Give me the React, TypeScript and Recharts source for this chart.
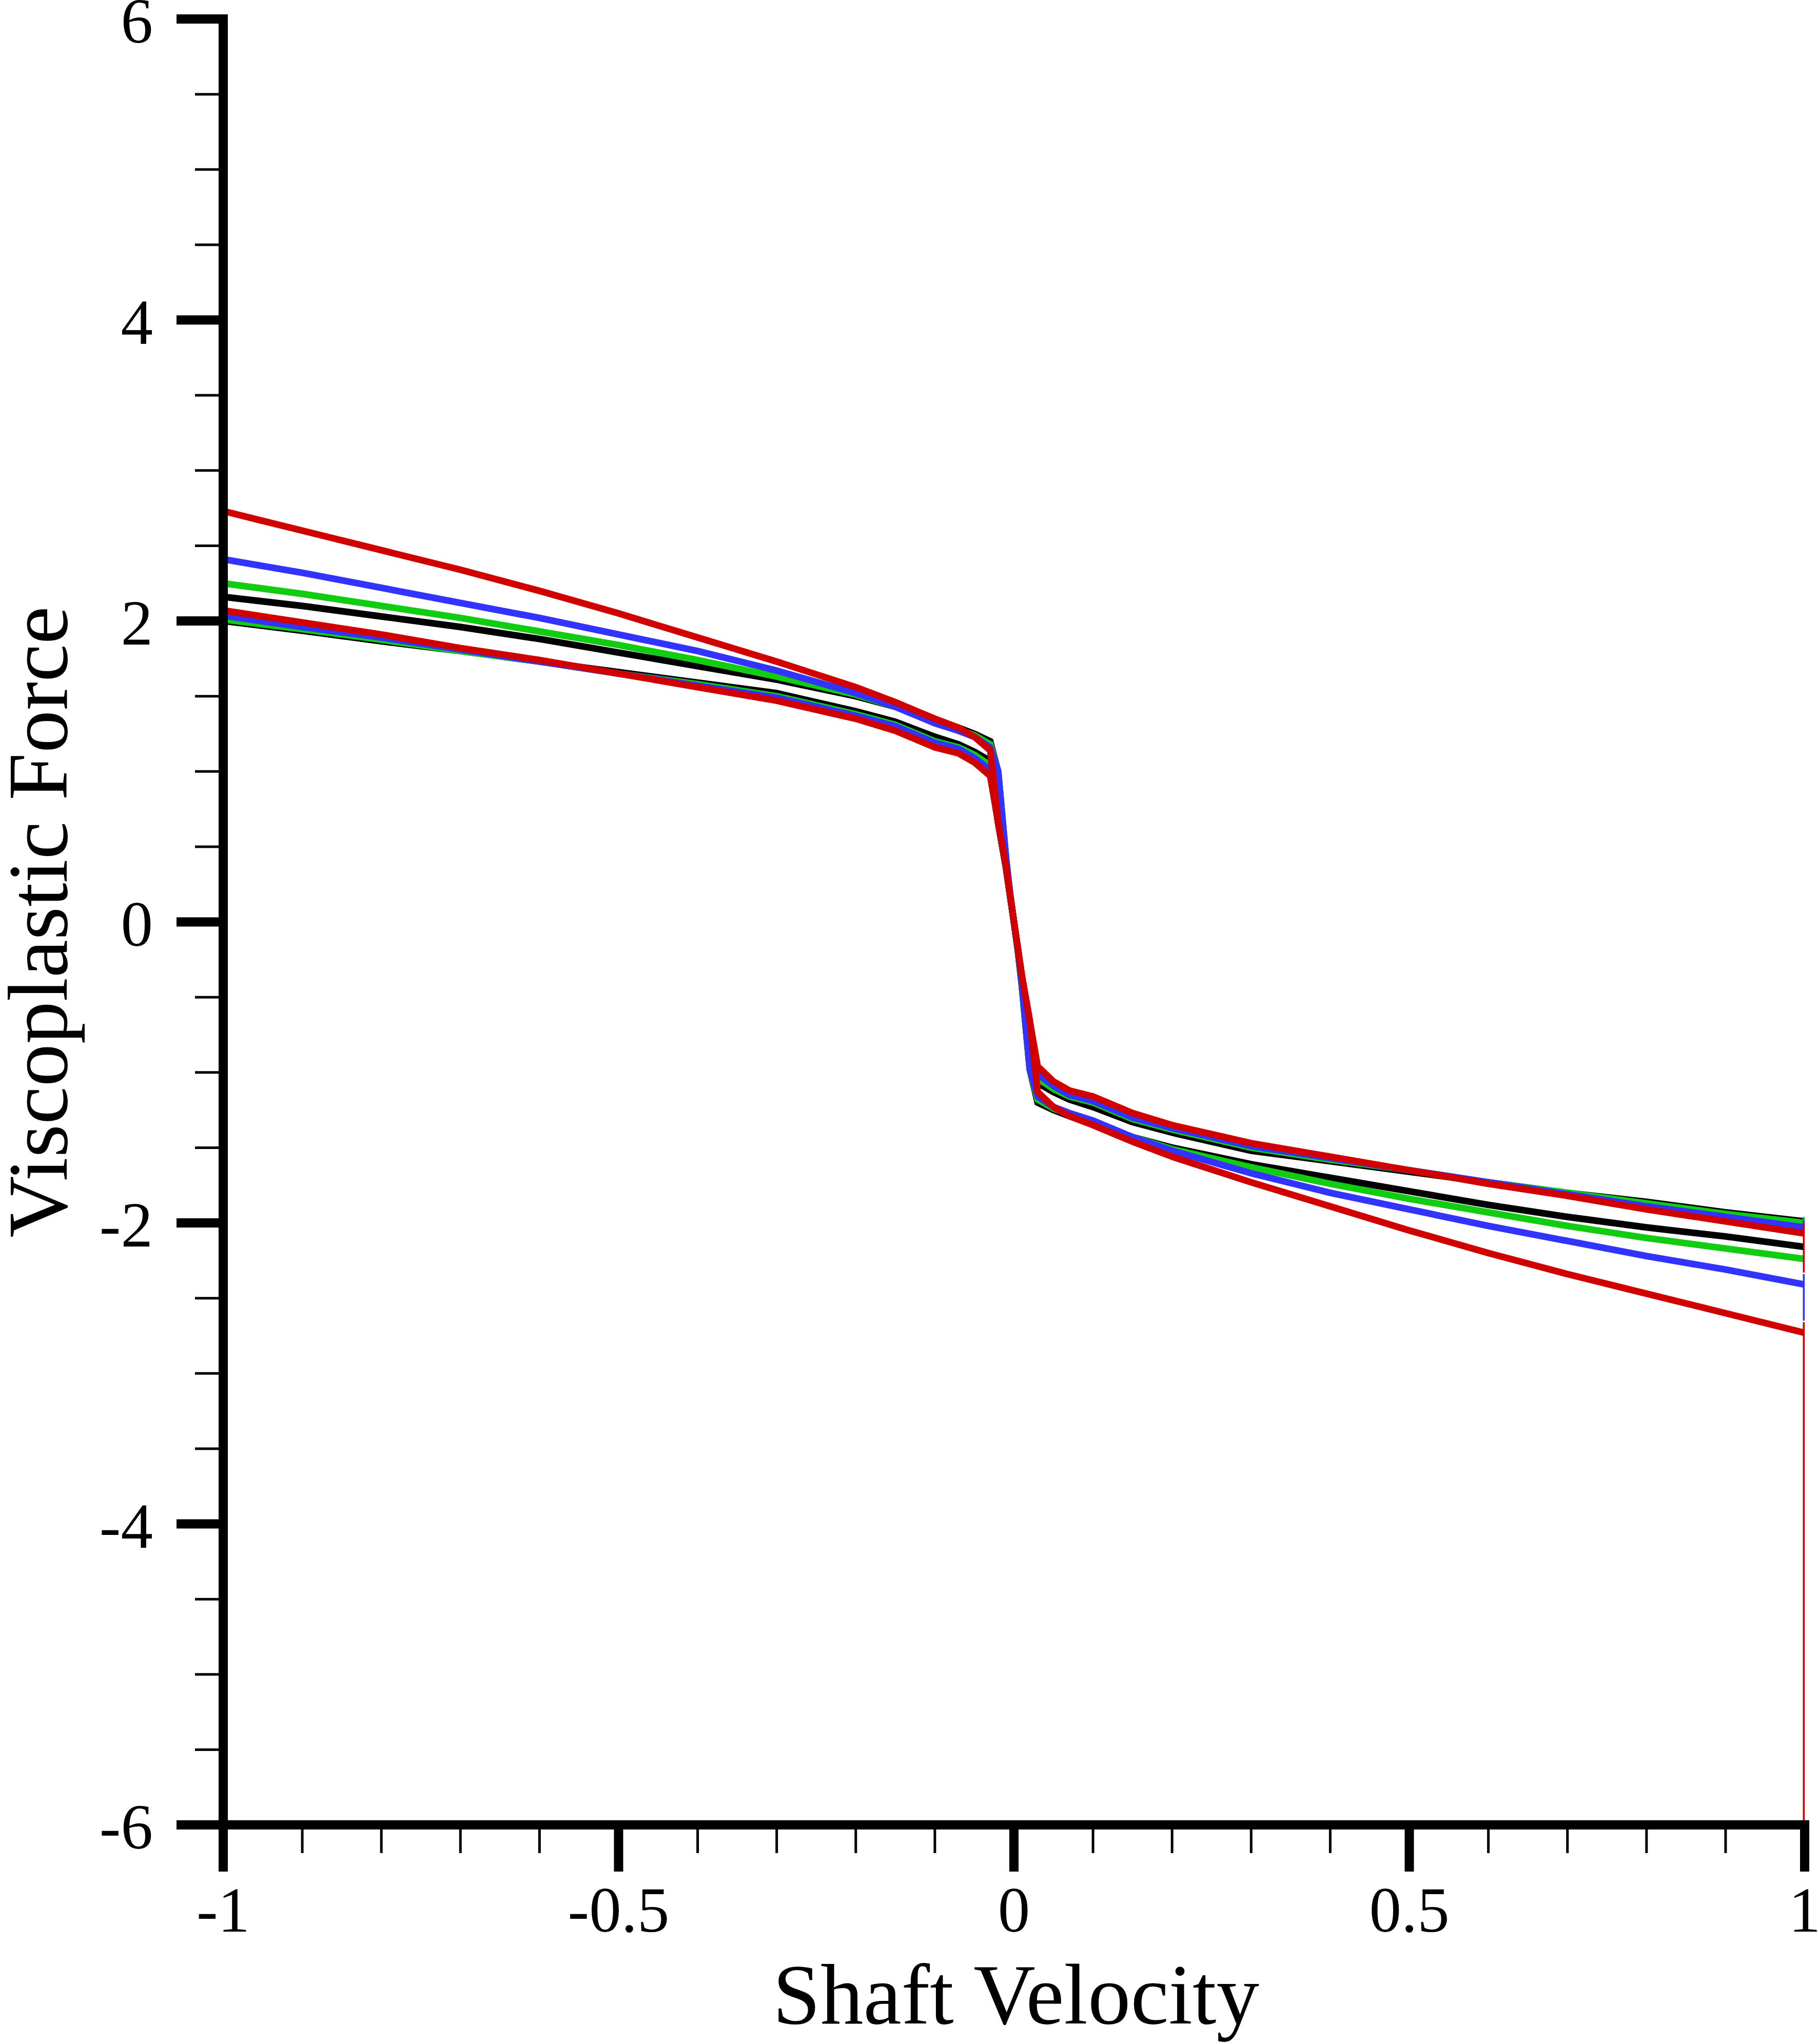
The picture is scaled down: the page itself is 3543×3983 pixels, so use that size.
import { LineChart, Line, XAxis, YAxis, Label } from "recharts";

// shaft velocity grid shared by all curves
const velocity = [
  -1, -0.9, -0.8, -0.7, -0.6, -0.5, -0.4, -0.3, -0.2, -0.15, -0.1, -0.07, -0.05, -0.03,
  -0.02, -0.01, -0.005, 0, 0.005, 0.01, 0.02,
  0.03, 0.05, 0.07, 0.1, 0.15, 0.2, 0.3, 0.4, 0.5, 0.6, 0.7, 0.8, 0.9, 1,
];

// outer (diverging) curves
const outerRed = [
  2.73, 2.6, 2.47, 2.34, 2.2, 2.05, 1.89, 1.73, 1.56, 1.46, 1.35, 1.29, 1.23, 1.14,
  0.66, 0.36, 0.18, 0.0, -0.18, -0.36, -0.66,
  -1.13, -1.23, -1.29, -1.35, -1.46, -1.56, -1.73, -1.89, -2.05, -2.2, -2.34, -2.47, -2.6, -2.73,
];
const outerBlue = [
  2.41, 2.32, 2.22, 2.12, 2.02, 1.91, 1.8, 1.67, 1.52, 1.43, 1.32, 1.27, 1.23, 1.16,
  1.0, 0.42, 0.19, 0.0, -0.19, -0.42, -0.98,
  -1.16, -1.23, -1.27, -1.32, -1.43, -1.52, -1.67, -1.8, -1.91, -2.02, -2.12, -2.22, -2.31, -2.41,
];
const outerGreen = [
  2.25, 2.18, 2.1, 2.02, 1.93, 1.84, 1.74, 1.63, 1.51, 1.43, 1.33, 1.28, 1.24, 1.18,
  1.0, 0.42, 0.19, 0.0, -0.19, -0.42, -0.98,
  -1.18, -1.24, -1.28, -1.33, -1.43, -1.51, -1.63, -1.74, -1.84, -1.93, -2.02, -2.1, -2.17, -2.24,
];
const outerBlack = [
  2.16, 2.1, 2.03, 1.96, 1.88, 1.79, 1.7, 1.61, 1.5, 1.43, 1.34, 1.29, 1.25, 1.2,
  1.0, 0.42, 0.19, 0.0, -0.19, -0.42, -0.98,
  -1.2, -1.25, -1.29, -1.34, -1.43, -1.5, -1.61, -1.7, -1.79, -1.88, -1.96, -2.03, -2.09, -2.16,
];

// inner (bundled) curves
const innerRed = [
  2.07, 1.99, 1.91, 1.82, 1.74, 1.65, 1.56, 1.47, 1.35, 1.27, 1.16, 1.12, 1.06, 0.97,
  0.66, 0.36, 0.18, 0.0, -0.18, -0.36, -0.66,
  -0.96, -1.06, -1.12, -1.16, -1.27, -1.35, -1.47, -1.56, -1.65, -1.74, -1.82, -1.91, -1.99, -2.07,
];
const innerBlue = [
  2.035, 1.96, 1.89, 1.81, 1.73, 1.65, 1.57, 1.49, 1.37, 1.3, 1.19, 1.15, 1.09, 1.01,
  0.66, 0.36, 0.18, 0.0, -0.18, -0.36, -0.66,
  -1.01, -1.09, -1.15, -1.19, -1.3, -1.37, -1.49, -1.57, -1.65, -1.73, -1.81, -1.89, -1.96, -2.03,
];
const innerGreen = [
  2.01, 1.945, 1.875, 1.8, 1.73, 1.65, 1.58, 1.5, 1.38, 1.31, 1.2, 1.16, 1.11, 1.04,
  0.66, 0.36, 0.18, 0.0, -0.18, -0.36, -0.66,
  -1.04, -1.11, -1.16, -1.2, -1.31, -1.38, -1.5, -1.58, -1.65, -1.73, -1.8, -1.87, -1.94, -2.0,
];
const innerBlack = [
  2.0, 1.935, 1.865, 1.8, 1.73, 1.66, 1.59, 1.52, 1.4, 1.33, 1.23, 1.18, 1.13, 1.07,
  0.66, 0.36, 0.18, 0.0, -0.18, -0.36, -0.66,
  -1.07, -1.13, -1.18, -1.23, -1.33, -1.4, -1.52, -1.59, -1.66, -1.73, -1.8, -1.86, -1.93, -1.99,
];

// short vertical drops at the right edge (v = 1)
const edgeX = [1, 1];
const edgeRedOuter = [-2.66, -6];
const edgeBlueOuter = [-2.34, -2.65];
const edgeRedInner = [-2.0, -2.33];
const edgeBlueInner = [-1.98, -2.0];
const edgeGreenInner = [-1.96, -1.98];

const xTicks = [
  -1, -0.9, -0.8, -0.7, -0.6, -0.5, -0.4, -0.3, -0.2, -0.1, 0,
  0.1, 0.2, 0.3, 0.4, 0.5, 0.6, 0.7, 0.8, 0.9, 1,
];
const xMajor = [-1, -0.5, 0, 0.5, 1];
const yTicks = [
  -6, -5.5, -5, -4.5, -4, -3.5, -3, -2.5, -2, -1.5, -1, -0.5, 0,
  0.5, 1, 1.5, 2, 2.5, 3, 3.5, 4, 4.5, 5, 5.5, 6,
];
const yMajor = [-6, -4, -2, 0, 2, 4, 6];

const RED = "#D00000";
const BLUE = "#3333FF";
const GREEN = "#11CC11";
const BLACK = "#000000";
const FONT = "'Liberation Serif', 'Times New Roman', serif";
const MAJOR = 91;
const MINOR = 55;

const pts = (xs: number[], ys: number[]) => xs.map((x, i) => ({ x, y: ys[i] }));

const curves = [
  { key: "innerBlack", ys: innerBlack, color: BLACK },
  { key: "innerGreen", ys: innerGreen, color: GREEN },
  { key: "innerBlue", ys: innerBlue, color: BLUE },
  { key: "innerRed", ys: innerRed, color: RED },
  { key: "outerBlack", ys: outerBlack, color: BLACK },
  { key: "outerGreen", ys: outerGreen, color: GREEN },
  { key: "outerBlue", ys: outerBlue, color: BLUE },
  { key: "outerRed", ys: outerRed, color: RED },
];

const edges = [
  { key: "edgeGreenInner", ys: edgeGreenInner, color: GREEN },
  { key: "edgeBlueInner", ys: edgeBlueInner, color: BLUE },
  { key: "edgeRedInner", ys: edgeRedInner, color: RED },
  { key: "edgeBlueOuter", ys: edgeBlueOuter, color: BLUE },
  { key: "edgeRedOuter", ys: edgeRedOuter, color: RED },
];

function XTick(props: any) {
  const { x, y, payload } = props;
  const v = payload.value as number;
  const major = xMajor.includes(v);
  const top = y - MAJOR;
  return (
    <g>
      <line x1={x} y1={top} x2={x} y2={top + (major ? MAJOR : MINOR)} stroke={BLACK} strokeWidth={major ? 18 : 5} />
      {major && (
        <text x={x} y={top + 208} textAnchor="middle" fontSize={125} fontFamily={FONT} fill={BLACK}>
          {String(v)}
        </text>
      )}
    </g>
  );
}

function YTick(props: any) {
  const { x, y, payload } = props;
  const v = payload.value as number;
  const major = yMajor.includes(v);
  const axis = x + MAJOR;
  return (
    <g>
      <line x1={axis} y1={y} x2={axis - (major ? MAJOR : MINOR)} y2={y} stroke={BLACK} strokeWidth={major ? 18 : 5} />
      {major && (
        <text x={axis - 137} y={y + 46} textAnchor="end" fontSize={125} fontFamily={FONT} fill={BLACK}>
          {String(v)}
        </text>
      )}
    </g>
  );
}

function XTitle(props: any) {
  const vb = props.viewBox ?? { x: 435, y: 3556, width: 3082, height: 427 };
  return (
    <text x={vb.x + vb.width / 2 + 4} y={vb.y + 387} textAnchor="middle" fontSize={167} fontFamily={FONT} fill={BLACK}>
      Shaft Velocity
    </text>
  );
}

function YTitle(props: any) {
  const vb = props.viewBox ?? { x: 0, y: 37, width: 435, height: 3519 };
  const cx = vb.x + 130;
  const cy = vb.y + vb.height / 2;
  return (
    <text x={cx} y={cy} transform={`rotate(-90 ${cx} ${cy})`} textAnchor="middle" fontSize={166} fontFamily={FONT} fill={BLACK}>
      Viscoplastic Force
    </text>
  );
}

export default function App() {
  return (
    <div style={{ position: "absolute", left: 0, top: 0, background: "#fff" }}>
      <LineChart width={3543} height={3983} margin={{ top: 37, right: 26, bottom: 0, left: 0 }}>
        <XAxis
          type="number"
          dataKey="x"
          domain={[-1, 1]}
          allowDataOverflow
          ticks={xTicks}
          interval={0}
          height={427}
          tickSize={MAJOR}
          tickMargin={0}
          tickLine={false}
          tick={<XTick />}
          axisLine={{ stroke: BLACK, strokeWidth: 18, strokeLinecap: "square" }}
        >
          <Label content={XTitle} />
        </XAxis>
        <YAxis
          type="number"
          dataKey="y"
          domain={[-6, 6]}
          allowDataOverflow
          ticks={yTicks}
          interval={0}
          width={435}
          tickSize={MAJOR}
          tickMargin={0}
          tickLine={false}
          tick={<YTick />}
          axisLine={{ stroke: BLACK, strokeWidth: 18, strokeLinecap: "square" }}
        >
          <Label content={YTitle} />
        </YAxis>
        {curves.map((c) => (
          <Line
            key={c.key}
            data={pts(velocity, c.ys)}
            dataKey="y"
            type="linear"
            stroke={c.color}
            strokeWidth={13}
            dot={false}
            activeDot={false}
            isAnimationActive={false}
          />
        ))}
        {edges.map((e) => (
          <Line
            key={e.key}
            data={pts(edgeX, e.ys)}
            dataKey="y"
            type="linear"
            stroke={e.color}
            strokeWidth={7}
            dot={false}
            activeDot={false}
            isAnimationActive={false}
          />
        ))}
      </LineChart>
    </div>
  );
}
